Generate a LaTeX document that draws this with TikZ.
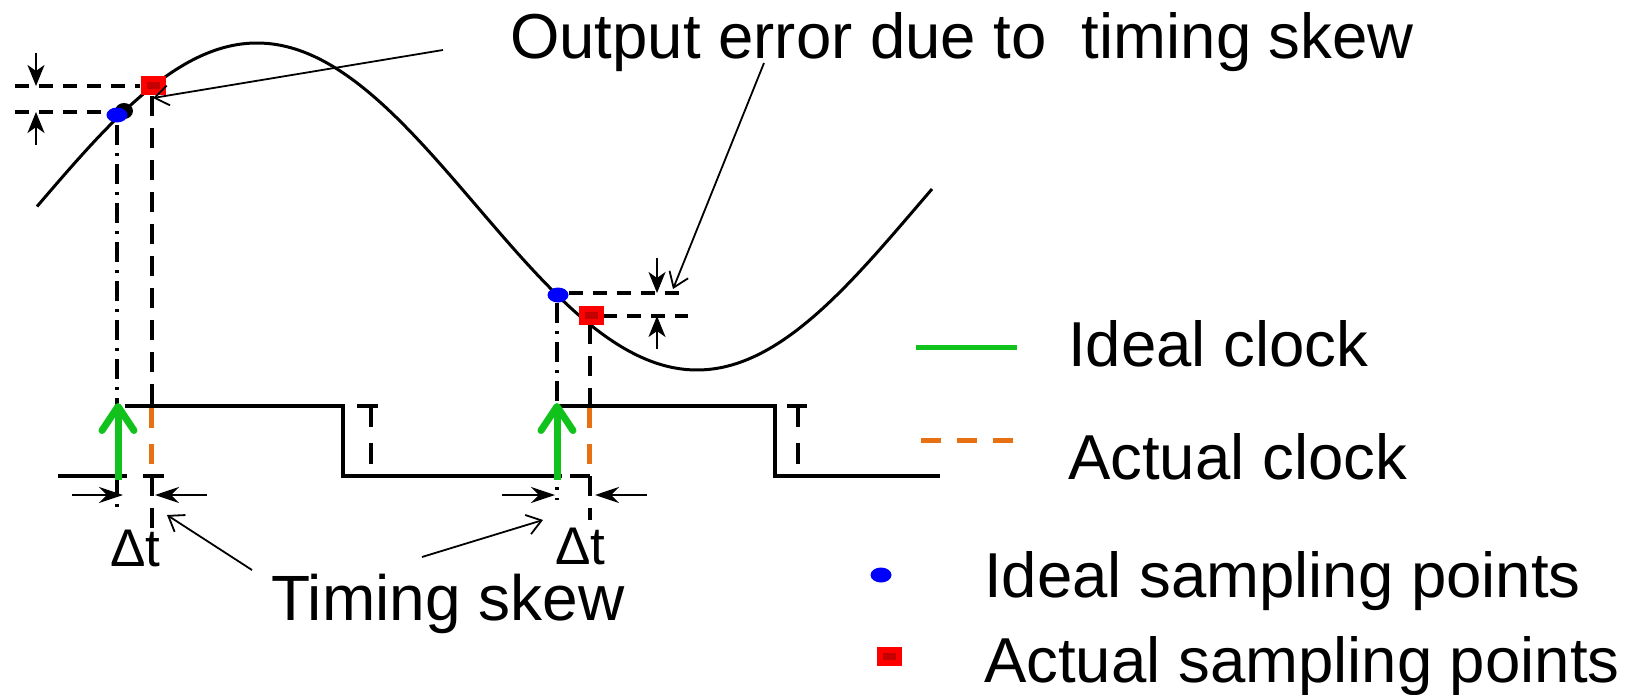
\documentclass[tikz,border=0pt]{standalone}
\usepackage{fontspec}
\setmainfont{Liberation Sans}
\usetikzlibrary{arrows.meta,shapes.geometric}
\definecolor{clkgreen}{RGB}{18,194,28}
\definecolor{clkorange}{RGB}{230,112,18}
\definecolor{darkred}{RGB}{196,0,0}
\begin{document}
\begin{tikzpicture}[x=1pt,y=-1pt,
  lbl/.style={font=\fontsize{63.5}{70}\selectfont, inner sep=0pt, anchor=base west},
  dtlbl/.style={font=\fontsize{53}{60}\selectfont, inner sep=0pt, anchor=base west, text depth=0pt},
  wave/.style={line width=3pt, line join=round},
  clk/.style={line width=4.2pt, line join=miter},
  guide/.style={line width=3.5pt, dash pattern=on 14pt off 10pt},
  vdashed/.style={line width=3.5pt, dash pattern=on 20pt off 12pt},
  dashdot/.style={line width=3.5pt, dash pattern=on 20pt off 8pt on 3pt off 8pt},
  idealclk/.style={line width=7pt, clkgreen, -{Straight Barb[round,length=24pt,width=32pt]}},
  actualclk/.style={line width=5pt, clkorange, dash pattern=on 20pt off 16pt},
  dim/.style={line width=2.2pt, -{Stealth[length=21pt,width=17pt,inset=6pt]}},
  dimh/.style={line width=2.2pt, -{Stealth[length=24pt,width=16pt,inset=8pt]}},
  leader/.style={line width=1.8pt, -{Straight Barb[length=14pt,width=20pt]}},
  bluept/.style={ellipse, fill=blue, minimum width=21pt, minimum height=15pt, inner sep=0pt},
  redpt/.style={rectangle, fill=red, minimum width=25pt, minimum height=19pt, inner sep=0pt},
  redin/.style={rectangle, fill=darkred, minimum width=13pt, minimum height=7pt, inner sep=0pt}
]
\useasboundingbox (0,0) rectangle (1641,695);

% signal
\draw[wave] plot[domain=37:932, samples=220] (\x, {206.5-163.5*cos((\x-257)/440*180)});

% clock waveform
\draw[clk] (58,476) -- (127,476);
\draw[clk] (143,476) -- (164,476);
\draw[clk] (125,406) -- (343,406) -- (343,476) -- (562,476);
\draw[clk] (570,476) -- (590,476);
\draw[clk] (557,406) -- (775,406) -- (775,476) -- (940,476);
% actual falling edges
\draw[clk] (357,406) -- (378,406);
\draw[line width=4pt, dash pattern=on 21pt off 16pt] (371,406) -- (371,464);
\draw[clk] (787,406) -- (807,406);
\draw[line width=4pt, dash pattern=on 21pt off 16pt] (798,406) -- (798,464);

% sampling verticals
\draw[dashdot] (117,125) -- (117,513);
\draw[vdashed] (152,96) -- (152,406);
\draw[vdashed] (152,476) -- (152,533);
\draw[actualclk] (151,408) -- (151,474);
\draw[dashdot] (557,303) -- (557,500);
\draw[vdashed] (590,324) -- (590,406);
\draw[vdashed] (590,476) -- (590,520);
\draw[actualclk] (589,408) -- (589,465);

% ideal clock arrows
\coordinate (g1s) at (118,480); \coordinate (g1e) at (118,403);
\coordinate (g2s) at (557,480); \coordinate (g2e) at (557,403);
\draw[idealclk] (g1s) -- (g1e);
\draw[idealclk] (g2s) -- (g2e);

% error guides
\draw[guide] (15,86) -- (140,86);
\draw[guide] (15,112) -- (107,112);
\draw[guide] (569,293) -- (688,293);
\draw[guide] (603,316) -- (688,316);

% sampling points
\node[ellipse, fill=black, minimum width=18pt, minimum height=16pt, inner sep=0pt] (k1) at (124,111) {};
\node[bluept] (b1) at (117,115) {};
\node[redpt] (r1) at (153,86) {};
\node[redin] (r1i) at (153,86) {};
\node[bluept] (b2) at (558,295) {};
\node[redpt] (r2) at (591,315) {};
\node[redin] (r2i) at (591,315) {};

% error dimension arrows
\coordinate (e1a) at (36,53);  \coordinate (e1b) at (36,86);
\coordinate (e1c) at (36,145); \coordinate (e1d) at (36,112);
\coordinate (e2a) at (657,258); \coordinate (e2b) at (657,293);
\coordinate (e2c) at (657,349); \coordinate (e2d) at (657,316);
\draw[dim] (e1a) -- (e1b);
\draw[dim] (e1c) -- (e1d);
\draw[dim] (e2a) -- (e2b);
\draw[dim] (e2c) -- (e2d);

% delta t arrows
\coordinate (d1a) at (72,495);  \coordinate (d1b) at (123,495);
\coordinate (d1c) at (207,495); \coordinate (d1d) at (155,495);
\coordinate (d2a) at (502,495); \coordinate (d2b) at (555,495);
\coordinate (d2c) at (647,495); \coordinate (d2d) at (595,495);
\draw[dimh] (d1a) -- (d1b);
\draw[dimh] (d1c) -- (d1d);
\draw[dimh] (d2a) -- (d2b);
\draw[dimh] (d2c) -- (d2d);

% texts
\node[lbl] (title) at (510,59) {Output error due to\ \ timing skew};
\node[lbl, font=\fontsize{64}{70}\selectfont, text height=46pt] (skew) at (271,620) {Timing skew};
\node[dtlbl] (dt1) at (110,566) {Δt};
\node[dtlbl] (dt2) at (555,564) {Δt};

% leaders
\coordinate (l1s) at (443,50);  \coordinate (l1e) at (153,98);
\coordinate (l2s) at (764,63);  \coordinate (l2e) at (673,289);
\coordinate (l3s) at (252,570); \coordinate (l3e) at (167,515);
\coordinate (l4s) at (422,557); \coordinate (l4e) at (543,520);
\draw[leader] (l1s) -- (l1e);
\draw[leader] (l2s) -- (l2e);
\draw[leader] (l3s) -- (l3e);
\draw[leader] (l4s) -- (l4e);

% legend
\coordinate (lg1a) at (916,347); \coordinate (lg1b) at (1017,347);
\draw[line width=5pt, clkgreen] (lg1a) -- (lg1b);
\coordinate (lg2a) at (921,440); \coordinate (lg2b) at (1015,440);
\draw[actualclk] (lg2a) -- (lg2b);
\node[lbl] (t1) at (1068,366) {Ideal clock};
\node[lbl] (t2) at (1068,479) {Actual clock};
\node[bluept] (lb) at (881,575) {};
\node[lbl] (t3) at (984,597) {Ideal sampling points};
\node[redpt] (lr) at (889,656) {};
\node[redin] (lri) at (889,656) {};
\node[lbl] (t4) at (984,682) {Actual sampling points};
\end{tikzpicture}
\end{document}
